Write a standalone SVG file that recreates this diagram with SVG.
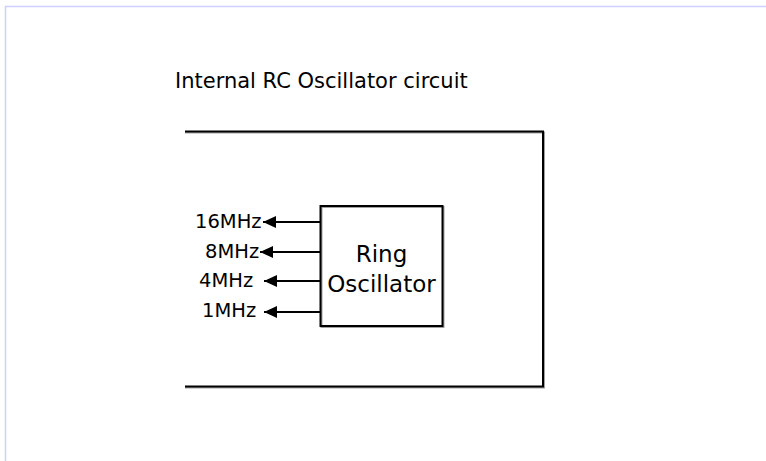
<svg xmlns="http://www.w3.org/2000/svg" width="766" height="461" viewBox="0 0 766 461">
  <style>
    .txt { font-family: "DejaVu Sans", Verdana, sans-serif; fill: #000; }
    .ln { fill: none; stroke: #000; stroke-width: 2; }
    .sh { fill: none; stroke: #a0a0a0; stroke-width: 2; }
  </style>
  <defs>
    <marker id="arr" markerWidth="15" markerHeight="13" refX="13" refY="6.5" orient="auto" markerUnits="userSpaceOnUse" overflow="visible">
      <path d="M0,0.5 L13,6.5 L0,12.5 Z" fill="#000"/>
    </marker>
  </defs>
  <rect x="0" y="0" width="766" height="461" fill="#fff"/>
  <path d="M5.5,461 V6.5 H766" fill="none" stroke="#d0d0ff" stroke-width="1.5"/>

  <g id="title">
    <text class="txt" x="175" y="88" font-size="21">Internal RC Oscillator circuit</text>
  </g>

  <g id="circuit-frame">
    <path class="sh" d="M185,132.5 H544 V387.5 H185"/>
    <path class="ln" d="M185,131.5 H543 V386.5 H185"/>
  </g>

  <g id="ring-oscillator">
    <rect x="321.5" y="207" width="122" height="120" class="sh"/>
    <rect x="320.5" y="206" width="122" height="120" class="ln" fill="#fff"/>
    <text class="txt" x="381.5" y="262" font-size="23" text-anchor="middle">Ring</text>
    <text class="txt" x="381.5" y="292" font-size="23" text-anchor="middle">Oscillator</text>
  </g>

  <g id="connectors">
    <line x1="320" y1="222" x2="263" y2="222" class="ln" marker-end="url(#arr)"/>
    <line x1="320" y1="252" x2="260" y2="252" class="ln" marker-end="url(#arr)"/>
    <line x1="320" y1="281" x2="264" y2="281" class="ln" marker-end="url(#arr)"/>
    <line x1="320" y1="312" x2="264" y2="312" class="ln" marker-end="url(#arr)"/>
  </g>

  <g id="labels">
    <text class="txt" x="195" y="228" font-size="19.5">16MHz</text>
    <text class="txt" x="205" y="258" font-size="19.5">8MHz</text>
    <text class="txt" x="199" y="287" font-size="19.5">4MHz</text>
    <text class="txt" x="202" y="317" font-size="19.5">1MHz</text>
  </g>
</svg>
